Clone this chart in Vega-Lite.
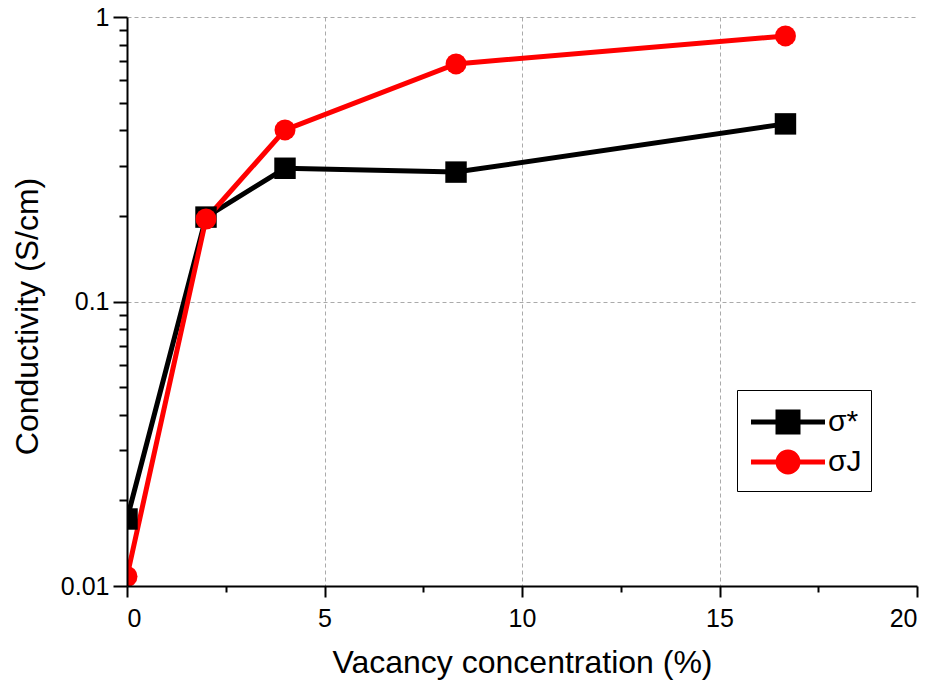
{
  "$schema": "https://vega.github.io/schema/vega-lite/v6.json",
  "width": 790,
  "height": 569,
  "autosize": "none",
  "padding": {"left": 127, "top": 17, "right": 16, "bottom": 99},
  "background": "white",
  "config": {
    "font": "Liberation Sans",
    "view": {"stroke": null},
    "axis": {
      "labelFont": "Liberation Sans",
      "titleFont": "Liberation Sans",
      "labelFontSize": 25,
      "titleFontSize": 32,
      "titleFontWeight": "normal",
      "labelColor": "black",
      "titleColor": "black",
      "domainColor": "black",
      "domainWidth": 2,
      "tickColor": "black",
      "tickWidth": 2,
      "gridColor": "#aaaaaa",
      "gridDash": [4, 3],
      "gridWidth": 1
    }
  },
  "data": {
    "values": [
      {"vacancy": 0, "conductivity": 0.0172, "series": "σ*"},
      {"vacancy": 2, "conductivity": 0.198, "series": "σ*"},
      {"vacancy": 4, "conductivity": 0.294, "series": "σ*"},
      {"vacancy": 8.33, "conductivity": 0.285, "series": "σ*"},
      {"vacancy": 16.67, "conductivity": 0.421, "series": "σ*"},
      {"vacancy": 0, "conductivity": 0.0108, "series": "σJ"},
      {"vacancy": 2, "conductivity": 0.195, "series": "σJ"},
      {"vacancy": 4, "conductivity": 0.401, "series": "σJ"},
      {"vacancy": 8.33, "conductivity": 0.684, "series": "σJ"},
      {"vacancy": 16.67, "conductivity": 0.858, "series": "σJ"}
    ]
  },
  "resolve": {"axis": {"x": "independent", "y": "independent"}},
  "layer": [
    {
      "mark": {"type": "line", "strokeWidth": 5, "clip": true},
      "encoding": {
        "x": {
          "field": "vacancy", "type": "quantitative",
          "scale": {"domain": [0, 20], "nice": false},
          "axis": {
            "orient": "bottom", "zindex": 1,
            "values": [0, 5, 10, 15, 20], "title": "Vacancy concentration (%)",
            "tickSize": 11, "labelPadding": 9, "titlePadding": 16, "grid": false
          }
        },
        "y": {
          "field": "conductivity", "type": "quantitative",
          "scale": {"type": "log", "domain": [0.01, 1], "nice": false},
          "axis": {
            "orient": "left", "zindex": 1,
            "values": [0.01, 0.1, 1], "format": "~g", "title": "Conductivity (S/cm)",
            "tickSize": 14, "labelPadding": 4, "titlePadding": 16, "titleY": 299, "grid": false
          }
        },
        "color": {
          "field": "series", "type": "nominal",
          "scale": {"domain": ["σ*", "σJ"], "range": ["black", "#ff0000"]},
          "legend": {
            "orient": "none", "legendX": 610, "legendY": 373,
            "title": " ",
            "titleFontSize": 8,
            "titlePadding": 0,
            "strokeColor": "black", "fillColor": "white",
            "padding": 9,
            "symbolSize": 400,
            "symbolOffset": 27,
            "symbolStrokeWidth": 5,
            "rowPadding": 0,
            "labelFontSize": 30,
            "labelFont": "Liberation Sans",
            "labelColor": "black",
            "labelOffset": 25,
            "encode": {
              "symbols": {
                "update": {
                  "shape": {"signal": "datum.value == 'σ*' ? 'M-3.7,0H3.7M-1,-1H1V1H-1Z' : 'M-3.7,0H3.7M1,0A1,1,0,1,1,-1,0A1,1,0,1,1,1,0Z'"},
                  "fill": {"signal": "datum.value == 'σ*' ? 'black' : '#ff0000'"},
                  "stroke": {"signal": "datum.value == 'σ*' ? 'black' : '#ff0000'"},
                  "opacity": {"value": 1}
                }
              }
            }
          }
        }
      }
    },
    {
      "transform": [{"filter": "datum.series == 'σ*'"}],
      "mark": {"type": "point", "shape": "square", "filled": true, "opacity": 1, "clip": true, "size": 460},
      "encoding": {
        "x": {"field": "vacancy", "type": "quantitative", "axis": {
          "orient": "bottom",
          "values": [2.5, 7.5, 12.5, 17.5], "labels": false, "title": null,
          "tickSize": 6, "domain": false, "grid": false
        }},
        "y": {"field": "conductivity", "type": "quantitative", "axis": {
          "orient": "left",
          "values": [0.02, 0.03, 0.04, 0.05, 0.06, 0.07, 0.08, 0.09, 0.2, 0.3, 0.4, 0.5, 0.6, 0.7, 0.8, 0.9],
          "labels": false, "title": null, "tickSize": 8, "domain": false, "grid": false
        }},
        "color": {"field": "series", "type": "nominal", "legend": null}
      }
    },
    {
      "transform": [{"filter": "datum.series == 'σJ'"}],
      "mark": {"type": "point", "shape": "circle", "filled": true, "opacity": 1, "clip": true, "size": 440},
      "encoding": {
        "x": {"field": "vacancy", "type": "quantitative", "axis": {
          "orient": "bottom", "values": [5, 10, 15], "labels": false, "ticks": false,
          "domain": false, "title": null, "grid": true, "zindex": 0
        }},
        "y": {"field": "conductivity", "type": "quantitative", "axis": {
          "orient": "left", "values": [0.1, 1], "labels": false, "ticks": false,
          "domain": false, "title": null, "grid": true, "zindex": 0
        }},
        "color": {"field": "series", "type": "nominal", "legend": null}
      }
    }
  ]
}
